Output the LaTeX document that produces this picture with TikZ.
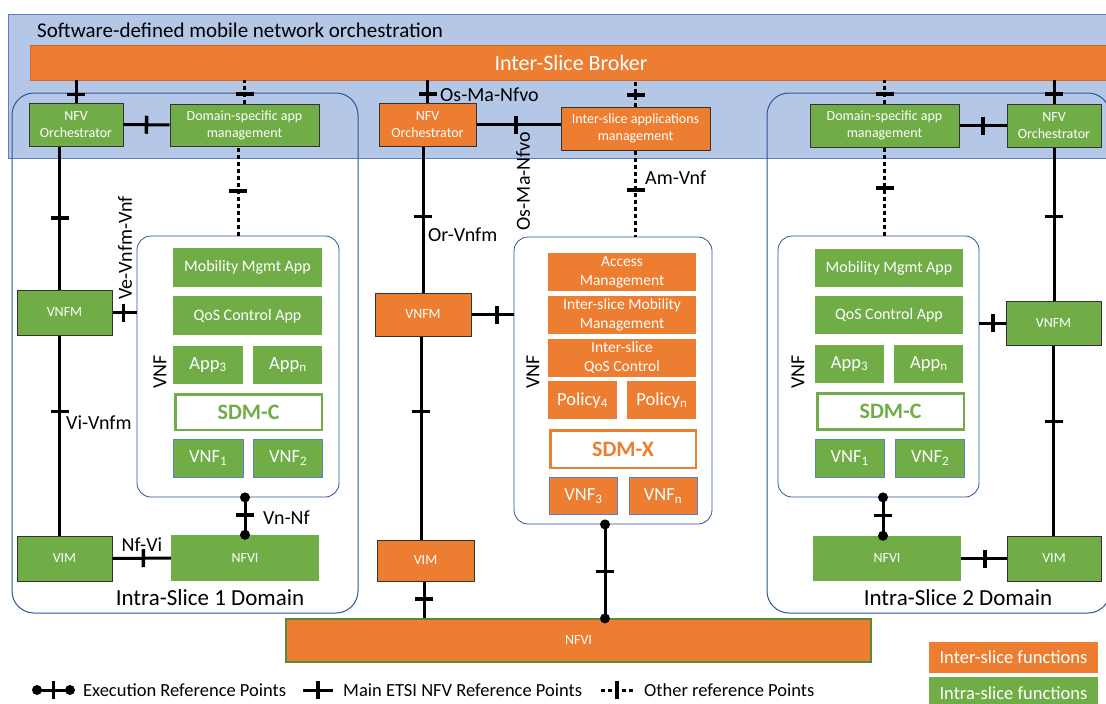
\documentclass[tikz,border=0pt]{standalone}
\usepackage{fontspec}
\setmainfont{Carlito}
\usetikzlibrary{positioning}

\definecolor{interorange}{HTML}{ED7D31}
\definecolor{intragreen}{HTML}{70AD47}
\definecolor{orchblue}{HTML}{B4C7E7}
\definecolor{orchedge}{HTML}{5B7FC0}
\definecolor{domainblue}{HTML}{2F5597}

\begin{document}
\begin{tikzpicture}[x=1pt,y=-1pt,align=center,inner sep=0pt,
		inter/.style={fill=interorange,text=white},
		intra/.style={fill=intragreen,text=white},
		edged/.style={draw=black!80,line width=1pt},
		boxtxt/.style={font=\fontsize{14}{17}\selectfont},
		apptxt/.style={font=\fontsize{16}{19}\selectfont},
		midtxt/.style={font=\fontsize{15.5}{19}\selectfont},
		subtxt/.style={font=\fontsize{18.5}{21}\selectfont},
		reftxt/.style={font=\fontsize{20}{22}\selectfont},
		keytxt/.style={font=\fontsize{18.5}{21}\selectfont},
		titletxt/.style={font=\fontsize{21}{24}\selectfont},
		bigtxt/.style={font=\fontsize{22}{25}\selectfont},
		captiontxt/.style={font=\fontsize{23}{26}\selectfont},
		sdmbox/.style={fill=white,line width=2.5pt,font=\fontsize{22}{25}\selectfont\bfseries},
		slicedomain/.style={draw=domainblue,line width=1pt,rounded corners=22pt},
		vnfbox/.style={draw=domainblue,line width=.8pt,rounded corners=14pt,fill=white},
		mainref/.style={line width=3pt},
		otherref/.style={line width=3pt,dash pattern=on 4pt off 3pt},
		bar/.style={fill=black,minimum width=3.5pt,minimum height=18pt,sloped},
		exdot/.style={circle,fill=black,minimum size=10pt}]
		\useasboundingbox (0,0) rectangle (1106,704);
		\fill[white] (0,0) rectangle (1106,704);
		% Orchestration layer
		\draw[draw=orchedge,fill=orchblue,line width=1pt] (8,14) rectangle (1112,158);
		\node[titletxt,anchor=west] (orchtitle) at (37,30) {Software-defined mobile network orchestration};
		\node[inter,draw=interorange!85!black,line width=.6pt,bigtxt,minimum width=1082,minimum height=35] (broker) at (571,62.5) {Inter-Slice Broker};
		\draw[slicedomain] (12,93) rectangle (358,613);
		\draw[slicedomain] (767,93) rectangle (1110,613);
		\node[captiontxt] (captionA) at (210,598) {Intra-Slice 1 Domain};
		\node[captiontxt] (captionB) at (958,598) {Intra-Slice 2 Domain};

		% Intra-slice 1
		\node[intra,edged,boxtxt,minimum width=94,minimum height=43] (nfvoA) at (76,124.5) {NFV\\Orchestrator};
		\node[intra,edged,boxtxt,minimum width=149,minimum height=42] (dsamA) at (244.5,125) {Domain-specific app\\management};
		\node[intra,edged,boxtxt,minimum width=95,minimum height=45] (vnfmA) at (64.5,312.5) {VNFM};
		\node[intra,edged,boxtxt,minimum width=95,minimum height=45] (vimA) at (64.5,558.5) {VIM};
		\node[intra,boxtxt,minimum width=148,minimum height=46] (nfviA) at (245,558) {NFVI};
		\node[vnfbox,minimum width=202,minimum height=261] (vnfA) at (238,366.5) {};
		\node[reftxt,rotate=90] (vnflabelA) at (160,372) {VNF};
		\node[intra,apptxt,minimum width=149,minimum height=39] (mobA) at (247.5,267.5) {Mobility Mgmt App};
		\node[intra,apptxt,minimum width=149,minimum height=39,below=9pt of mobA] (qosA) {QoS Control App};
		\node[intra,subtxt,minimum width=70,minimum height=38,below=10pt of qosA.south west,anchor=north west] (appthreeA) {App\textsubscript{3}};
		\node[intra,subtxt,minimum width=69,minimum height=38,right=10pt of appthreeA] (appnA) {App\textsubscript{n}};
		\node[sdmbox,draw=intragreen,text=intragreen,minimum width=146.5,minimum height=35.5,below=9pt of appthreeA.south west,anchor=north west,xshift=1.25pt] (sdmcA) {SDM-C};
		\node[intra,subtxt,draw=orchedge,line width=.6pt,minimum width=70,minimum height=38,below=8pt of sdmcA.south west,anchor=north west,xshift=-1.25pt] (vnfoneA) {VNF\textsubscript{1}};
		\node[intra,subtxt,draw=orchedge,line width=.6pt,minimum width=69,minimum height=38,right=10pt of vnfoneA] (vnftwoA) {VNF\textsubscript{2}};

		% Inter-slice (middle)
		\node[inter,edged,boxtxt,minimum width=97,minimum height=43] (nfvoM) at (427.5,124.5) {NFV\\Orchestrator};
		\node[inter,edged,boxtxt,minimum width=149,minimum height=43] (isam) at (635.5,128.5) {Inter-slice applications\\management};
		\node[inter,edged,boxtxt,minimum width=96,minimum height=43] (vnfmM) at (423,314.5) {VNFM};
		\node[inter,edged,boxtxt,minimum width=97,minimum height=41] (vimM) at (425.5,560.5) {VIM};
		\node[inter,draw=intragreen!80!black,line width=1.2pt,boxtxt,minimum width=585,minimum height=43] (nfvi) at (578.5,640.5) {NFVI};
		\node[vnfbox,minimum width=198,minimum height=287] (vnfM) at (613,380.5) {};
		\node[reftxt,rotate=90] (vnflabelM) at (533,372) {VNF};
		\node[inter,midtxt,minimum width=148,minimum height=38] (access) at (622,272) {Access\\Management};
		\node[inter,midtxt,minimum width=148,minimum height=38,below=5pt of access] (ismob) {Inter-slice Mobility\\Management};
		\node[inter,midtxt,minimum width=148,minimum height=38,below=4pt of ismob] (isqos) {Inter-slice\\QoS Control};
		\node[inter,subtxt,minimum width=69,minimum height=38,below=4pt of isqos.south west,anchor=north west] (policyfour) {Policy\textsubscript{4}};
		\node[inter,subtxt,minimum width=69,minimum height=38,right=10pt of policyfour] (policyn) {Policy\textsubscript{n}};
		\node[sdmbox,draw=interorange,text=interorange,minimum width=145.5,minimum height=37.5,below=10pt of policyfour.south west,anchor=north west,xshift=1.25pt] (sdmx) {SDM-X};
		\node[inter,subtxt,draw=orchedge,line width=.6pt,minimum width=68,minimum height=37,below=8pt of sdmx.south west,anchor=north west] (vnfthree) {VNF\textsubscript{3}};
		\node[inter,subtxt,draw=orchedge,line width=.6pt,minimum width=68,minimum height=37,right=11pt of vnfthree] (vnfnM) {VNF\textsubscript{n}};

		% Intra-slice 2
		\node[intra,edged,boxtxt,minimum width=149,minimum height=43] (dsamB) at (884.5,125.5) {Domain-specific app\\management};
		\node[intra,edged,boxtxt,minimum width=94,minimum height=43] (nfvoB) at (1054,125.5) {NFV\\Orchestrator};
		\node[intra,edged,boxtxt,minimum width=95,minimum height=44] (vnfmB) at (1053.5,323) {VNFM};
		\node[intra,boxtxt,minimum width=148,minimum height=45] (nfviB) at (887,558.5) {NFVI};
		\node[intra,edged,boxtxt,minimum width=94,minimum height=45] (vimB) at (1054,558.5) {VIM};
		\node[vnfbox,minimum width=201,minimum height=261] (vnfB) at (878.5,366.5) {};
		\node[reftxt,rotate=90] (vnflabelB) at (798,372) {VNF};
		\node[intra,apptxt,minimum width=148,minimum height=38] (mobB) at (889,268) {Mobility Mgmt App};
		\node[intra,apptxt,minimum width=148,minimum height=38,below=9pt of mobB] (qosB) {QoS Control App};
		\node[intra,subtxt,minimum width=69,minimum height=38,below=10pt of qosB.south west,anchor=north west] (appthreeB) {App\textsubscript{3}};
		\node[intra,subtxt,minimum width=69,minimum height=38,right=10pt of appthreeB] (appnB) {App\textsubscript{n}};
		\node[sdmbox,draw=intragreen,text=intragreen,minimum width=146.5,minimum height=36,below=9pt of appthreeB.south west,anchor=north west,xshift=1.25pt] (sdmcB) {SDM-C};
		\node[intra,subtxt,draw=orchedge,line width=.6pt,minimum width=69,minimum height=38,below=8pt of sdmcB.south west,anchor=north west,xshift=-1.25pt] (vnfoneB) {VNF\textsubscript{1}};
		\node[intra,subtxt,draw=orchedge,line width=.6pt,minimum width=69,minimum height=38,right=11pt of vnfoneB] (vnftwoB) {VNF\textsubscript{2}};

		% Reference points, intra-slice 1
		\draw[mainref] (nfvoA.north) -- (nfvoA.north |- broker.south) node[bar,pos=.35]{};
		\draw[otherref] (dsamA.north) -- (dsamA.north |- broker.south) node[bar,pos=.4]{};
		\draw[mainref] (nfvoA.east) -- (dsamA.west) node[bar,pos=.5]{};
		\draw[mainref] ([xshift=-5pt]vnfmA.north) -- ([xshift=-5pt]vnfmA.north |- nfvoA.south) node[bar,pos=.5]{};
		\draw[mainref] (vnfmA.east) -- (vnfmA.east -| vnfA.west) node[bar,pos=.45]{};
		\draw[otherref] (vnfA.north) -- (vnfA.north |- dsamA.south) node[bar,pos=.5]{};
		\draw[mainref] ([xshift=-5pt]vnfmA.south) -- ([xshift=-5pt]vimA.north) node[bar,pos=.38]{};
		\draw[mainref] (vimA.east) -- (nfviA.west) node[bar,pos=.53]{};
		\draw[mainref] (nfviA.north) -- (nfviA.north |- vnfA.south) node[exdot,pos=0]{} node[bar,pos=.53]{} node[exdot,pos=1]{};
		\node[reftxt,rotate=90] (vevnfm) at (125,248) {Ve-Vnfm-Vnf};
		\node[reftxt,anchor=west] (vivnfm) at (66,423) {Vi-Vnfm};
		\node[reftxt] (nfvi1) at (142,545) {Nf-Vi};
		\node[reftxt,anchor=west] (vnnf) at (263,518) {Vn-Nf};

		% Reference points, inter-slice
		\draw[mainref] (nfvoM.north) -- (nfvoM.north |- broker.south) node[bar,pos=.39]{};
		\draw[mainref] (nfvoM.east) -- (nfvoM.east -| isam.west) node[bar,pos=.47]{};
		\draw[otherref] (isam.north) -- (isam.north |- broker.south) node[bar,pos=.44]{};
		\draw[otherref] (isam.south) -- (isam.south |- vnfM.north) node[bar,pos=.46]{};
		\draw[mainref] (vnfmM.north) -- (vnfmM.north |- nfvoM.south) node[bar,pos=.52]{};
		\draw[mainref] (vnfmM.east) -- (vnfmM.east -| vnfM.west) node[bar,pos=.6]{};
		\draw[mainref] ([xshift=-2pt]vnfmM.south) -- ([xshift=-2pt]vnfmM.south |- vimM.north) node[bar,pos=.37]{};
		\draw[mainref] ([xshift=-1.5pt]vimM.south) -- ([xshift=-1.5pt]vimM.south |- nfvi.north) node[bar,pos=.47]{};
		\draw[mainref] ([xshift=-8pt]vnfM.south) -- ([xshift=-8pt]vnfM.south |- nfvi.north) node[exdot,pos=0]{} node[bar,pos=.5]{} node[exdot,pos=1]{};
		\node[reftxt,anchor=west] (osmatop) at (440,95) {Os-Ma-Nfvo};
		\node[reftxt,rotate=90] (osmaside) at (523,181) {Os-Ma-Nfvo};
		\node[reftxt,anchor=west] (amvnf) at (645,178) {Am-Vnf};
		\node[reftxt,anchor=west] (orvnfm) at (428,235) {Or-Vnfm};

		% Reference points, intra-slice 2
		\draw[otherref] (dsamB.north) -- (dsamB.north |- broker.south) node[bar,pos=.42]{};
		\draw[mainref] (nfvoB.north) -- (nfvoB.north |- broker.south) node[bar,pos=.42]{};
		\draw[mainref] (dsamB.east) -- (nfvoB.west) node[bar,pos=.5]{};
		\draw[otherref] (dsamB.south) -- (dsamB.south |- vnfB.north) node[bar,pos=.46]{};
		\draw[mainref] (nfvoB.south) -- (nfvoB.south |- vnfmB.north) node[bar,pos=.45]{};
		\draw[mainref] (vnfmB.west) -- (vnfmB.west -| vnfB.east) node[bar,pos=.48]{};
		\draw[mainref] (vnfmB.south) -- (vnfmB.south |- vimB.north) node[bar,pos=.4]{};
		\draw[mainref] (nfviB.east) -- (vimB.west) node[bar,pos=.52]{};
		\draw[mainref] ([xshift=-4pt]nfviB.north) -- ([xshift=-4pt]nfviB.north |- vnfB.south) node[exdot,pos=0]{} node[bar,pos=.53]{} node[exdot,pos=1]{};

		% Legend
		\coordinate (execL) at (37,690); \coordinate (execR) at (70,690);
		\draw[mainref] (execL) -- (execR) node[exdot,pos=0]{} node[bar,pos=.5]{} node[exdot,pos=1]{};
		\node[keytxt,right=13pt of execR] (execkey) {Execution Reference Points};
		\coordinate (mainL) at (303,690); \coordinate (mainR) at (333,690);
		\draw[mainref] (mainL) -- (mainR) node[bar,pos=.5]{};
		\node[keytxt,right=10pt of mainR] (mainkey) {Main ETSI NFV Reference Points};
		\coordinate (otherL) at (601,690); \coordinate (otherR) at (633,690);
		\draw[otherref] (otherL) -- (otherR) node[bar,pos=.5]{};
		\node[keytxt,right=11pt of otherR] (otherkey) {Other reference Points};
		\node[inter,keytxt,minimum width=169,minimum height=31] (interkey) at (1013.5,657.5) {Inter-slice functions};
		\node[intra,keytxt,minimum width=169,minimum height=31,below=4pt of interkey] (intrakey) {Intra-slice functions};
\end{tikzpicture}
\end{document}
